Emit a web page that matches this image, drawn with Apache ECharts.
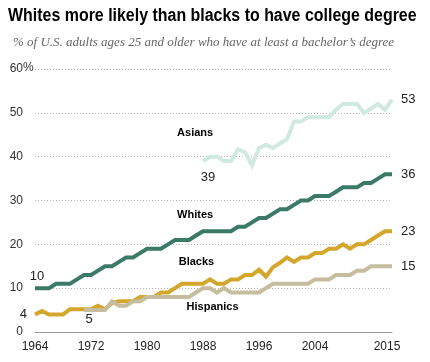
<!DOCTYPE html>
<html>
<head>
<meta charset="utf-8">
<style>html,body{margin:0;padding:0;background:#fff}#c{width:430px;height:362px}</style>
<script src="https://cdn.jsdelivr.net/npm/echarts@6/dist/echarts.min.js"></script>
</head>
<body>
<div id="c"></div>
<script>
// Data (percent with bachelor's degree)
var whitesStart = 1964;
var whites = [10,10,10,11,11,11,12,13,13,14, 15,15,16,17,17,18,19,19,19,20, 21,21,21,22,23,23,23,23,23,24, 24,25,26,26,27,28,28,29,30,30, 31,31,31,32,33,33,33,34,34,35, 36,36];
var blacksStart = 1964;
var blacks = [4,4.8,4,4,4,5.2,5.2,5.2,5.2,6, 5.2,6.6,7,7,7,8,8,8,9,9, 10,11,11,11,11,12,11,11,12,12, 13,13,14.2,12.6,14.8,15.8,17,16,17,17, 18,18,19,19,20,19,20,20,21,22, 23,23];
var hispanicsStart = 1971;
var hispanics = [5,5,5,5,7,6,6,7,7,8, 8,8,8,8,8,8,9,10,10,9, 10,9,9,9,9,9,10,11,11,11, 11,11,11,12,12,12,13,13,13,14, 14,15,15,15,15];
var asiansStart = 1988;
var asians = [39,40,40,39,39,41.7,41,38,42,42.7, 42,43,44,48,48,49,49,49,49,50.7, 52,52,52,50,51,52,50.7,53];
var xTicks = [1964,1972,1980,1988,1996,2004,2015];
var yTicks = [0,10,20,30,40,50,60];

function pairs(start, arr){ return arr.map(function(v,i){ return [start+i, v]; }); }

var chart = echarts.init(document.getElementById('c'), null, {renderer:'canvas'});

var SANS = 'Liberation Sans, Arial, sans-serif';
var nameLabel = {fontSize:11, fontWeight:'bold', color:'#000', fontFamily:SANS};
var numLabel = {fontSize:13, color:'#222', fontFamily:SANS};

function mk(coord, text, opts){
  var lab = Object.assign({show:true, formatter:text}, opts.style, opts.label);
  return {coord:coord, symbol:'circle', symbolSize:0, label:lab};
}

function series(name, start, arr, color, marks, z){
  return {
    name:name, type:'line', data:pairs(start, arr), showSymbol:false, symbol:'none',
    lineStyle:{width:4, color:color, cap:'butt', join:'miter'}, itemStyle:{color:color},
    z:z, silent:true, animation:false,
    endLabel:{show:true, formatter:function(p){ return String(Math.round(p.value[1])); }, distance:9,
      fontSize:13, color:'#222', fontFamily:SANS},
    markPoint:{silent:true, animation:false, data:marks}
  };
}

var option = {
  animation:false,
  title:[
    {text:'% of U.S. adults ages 25 and older who have at least a bachelor\u2019s degree', left:8, top:31,
      textStyle:{fontSize:13, fontStyle:'italic', fontWeight:'normal', color:'#666', fontFamily:'Liberation Serif, serif'}}
  ],
  grid:{left:35, right:38, top:69, bottom:30},
  xAxis:{type:'value', min:1964, max:2015,
    axisLine:{show:true, lineStyle:{color:'#999', width:1}},
    axisTick:{show:false}, splitLine:{show:false},
    axisLabel:{customValues:xTicks, fontSize:12, color:'#222', margin:9,
      fontFamily:SANS,
      formatter:function(v){ return v===2015 ? '{r|2015}' : String(v); },
      rich:{r:{fontSize:12, color:'#222', padding:[0,10,0,0], fontFamily:SANS}}}
  },
  yAxis:{type:'value', min:0, max:60, interval:10,
    axisLine:{show:false}, axisTick:{show:false},
    axisLabel:{fontSize:12, color:'#333', margin:12, fontFamily:SANS,
      formatter:function(v){ return yTicks.indexOf(v)>=0 ? String(v) : ''; }},
    splitLine:{show:true, lineStyle:{color:'#b5b5b5', type:[1,2], width:1}}
  },
  graphic:[
    {type:'text', x:8, y:16, scaleX:0.886, scaleY:1,
      style:{text:'Whites more likely than blacks to have college degree', fontSize:18, fontWeight:'bold',
        fill:'#000', fontFamily:SANS, textVerticalAlign:'middle', verticalAlign:'middle'}},
    {type:'text', left:23, top:62, style:{text:'%', fontSize:12, fill:'#333', fontFamily:SANS}}
  ],
  series:[
    series('Asians', asiansStart, asians, '#d0e9e1', [
      mk([asiansStart, asians[0]], '39', {style:numLabel, label:{position:'bottom', distance:10, offset:[5,0]}}),
      mk([1989.45, 45.4], 'Asians', {style:nameLabel, label:{position:'left', distance:0}})
    ], 2),
    series('Whites', whitesStart, whites, '#3b7a67', [
      mk([whitesStart, whites[0]], '10', {style:numLabel, label:{position:'top', distance:5, offset:[2,0]}}),
      mk([1989.45, 26.7], 'Whites', {style:nameLabel, label:{position:'left', distance:0}})
    ], 3),
    series('Blacks', blacksStart, blacks, '#d4a72c', [
      mk([blacksStart, blacks[0]], '4', {style:numLabel, label:{position:'left', distance:8}}),
      mk([1989.6, 16.05], 'Blacks', {style:nameLabel, label:{position:'left', distance:0}})
    ], 4),
    series('Hispanics', hispanicsStart, hispanics, '#c5bd9e', [
      mk([hispanicsStart, hispanics[0]], '5', {style:numLabel, label:{position:'bottom', distance:3, offset:[5,0]}}),
      mk([1985.65, 5.8], 'Hispanics', {style:nameLabel, label:{position:'right', distance:0}})
    ], 5)
  ]
};
chart.setOption(option);
</script>
</body>
</html>
